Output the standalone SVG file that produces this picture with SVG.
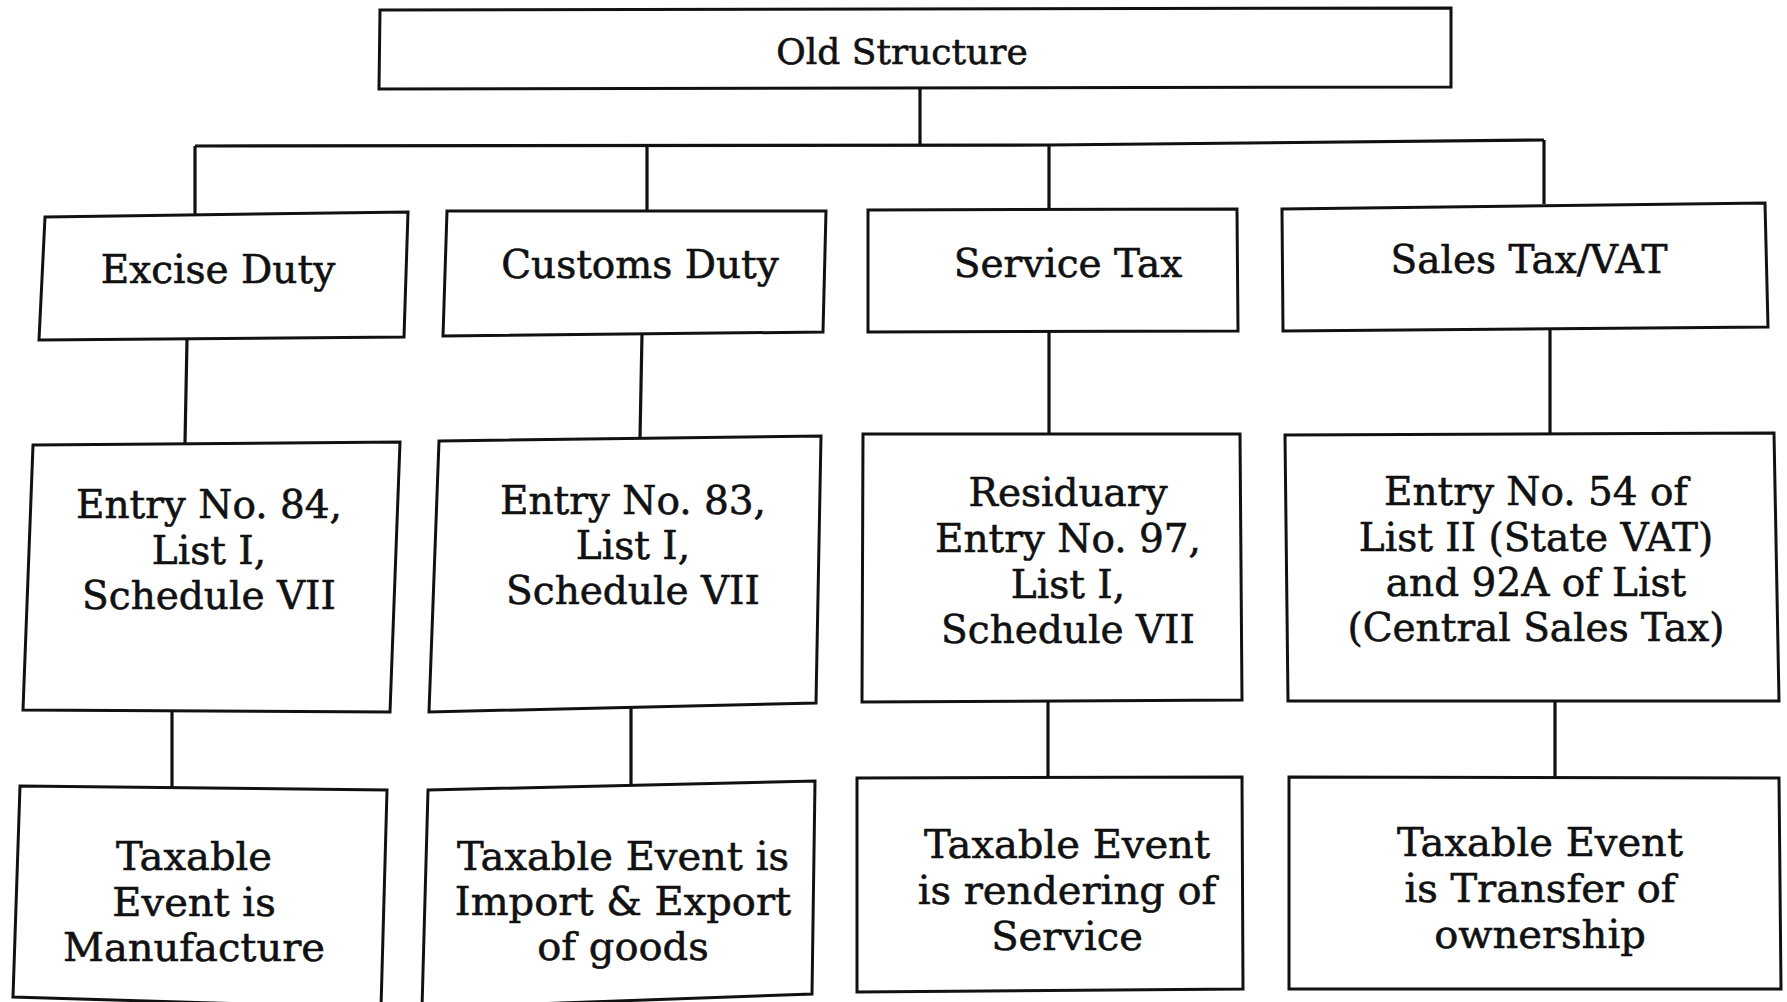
<svg xmlns="http://www.w3.org/2000/svg" width="1787" height="1002" viewBox="0 0 1787 1002">
<style>
.box{fill:#fff;stroke:#111;stroke-width:3;stroke-linejoin:miter}
.con{fill:none;stroke:#111;stroke-width:3.2}
text{font-family:"DejaVu Serif","Liberation Serif",serif;fill:#111;stroke:#111;stroke-width:0.6;text-anchor:middle}
.t0{font-size:36px}
.t1{font-size:39px}
.t2{font-size:39px}
.t3{font-size:40px}
</style>
<rect width="1787" height="1002" fill="#fff"/>
<g id="connectors">
<path class="con" d="M920,88 V145"/>
<path class="con" d="M195,146 L1049,145 L1544,140"/>
<path class="con" d="M195,146 V215 M647,146 V211 M1049,145 V209 M1544,140 V204"/>
<path class="con" d="M187,339 L185,443 M642,334 L640,438 M1049,331 V434 M1550,327 V433"/>
<path class="con" d="M172,711 V788 M631,706 V784 M1048,701 V777 M1555,701 V777"/>
</g>
<g id="old-structure">
<polygon class="box" points="380,10 1451,8 1451,87 379,89"/>
<text class="t0" x="902" y="64">Old Structure</text>
</g>
<g id="excise-duty">
<polygon class="box" points="45,217 408,212 404,337 39,340"/>
<text class="t1" x="218" y="283">Excise Duty</text>
</g>
<g id="customs-duty">
<polygon class="box" points="447,211 826,211 823,332 443,336"/>
<text class="t1" x="640" y="278">Customs Duty</text>
</g>
<g id="service-tax">
<polygon class="box" points="868,210 1237,209 1238,331 868,332"/>
<text class="t1" x="1068" y="277">Service Tax</text>
</g>
<g id="sales-tax">
<polygon class="box" points="1282,209 1765,203 1768,327 1283,331"/>
<text class="t1" x="1529" y="273">Sales Tax/VAT</text>
</g>
<g id="excise-entry">
<polygon class="box" points="33,445 400,442 390,712 23,710"/>
<text class="t2" x="209" y="518">Entry No. 84,</text>
<text class="t2" x="209" y="564">List I,</text>
<text class="t2" x="209" y="609">Schedule VII</text>
</g>
<g id="customs-entry">
<polygon class="box" points="439,441 821,436 816,703 429,712"/>
<text class="t2" x="633" y="514">Entry No. 83,</text>
<text class="t2" x="633" y="559">List I,</text>
<text class="t2" x="633" y="604">Schedule VII</text>
</g>
<g id="service-entry">
<polygon class="box" points="863,434 1240,434 1242,700 862,702"/>
<text class="t2" x="1068" y="506">Residuary</text>
<text class="t2" x="1068" y="552">Entry No. 97,</text>
<text class="t2" x="1068" y="598">List I,</text>
<text class="t2" x="1068" y="643">Schedule VII</text>
</g>
<g id="sales-entry">
<polygon class="box" points="1285,435 1774,433 1779,701 1288,701"/>
<text class="t2" x="1536" y="505">Entry No. 54 of</text>
<text class="t2" x="1536" y="551">List II (State VAT)</text>
<text class="t2" x="1536" y="596">and 92A of List</text>
<text class="t2" x="1536" y="641">(Central Sales Tax)</text>
</g>
<g id="excise-event">
<polygon class="box" points="20,786 387,790 381,1008 13,997"/>
<text class="t3" x="194" y="870">Taxable</text>
<text class="t3" x="194" y="916">Event is</text>
<text class="t3" x="194" y="961">Manufacture</text>
</g>
<g id="customs-event">
<polygon class="box" points="428,790 815,781 812,994 422,1008"/>
<text class="t3" x="623" y="870">Taxable Event is</text>
<text class="t3" x="623" y="915">Import &amp; Export</text>
<text class="t3" x="623" y="960">of goods</text>
</g>
<g id="service-event">
<polygon class="box" points="857,778 1242,777 1243,989 857,992"/>
<text class="t3" x="1067" y="858">Taxable Event</text>
<text class="t3" x="1067" y="904">is rendering of</text>
<text class="t3" x="1067" y="950">Service</text>
</g>
<g id="sales-event">
<polygon class="box" points="1289,777 1779,778 1781,989 1289,989"/>
<text class="t3" x="1540" y="856">Taxable Event</text>
<text class="t3" x="1540" y="902">is Transfer of</text>
<text class="t3" x="1540" y="948">ownership</text>
</g>
</svg>
